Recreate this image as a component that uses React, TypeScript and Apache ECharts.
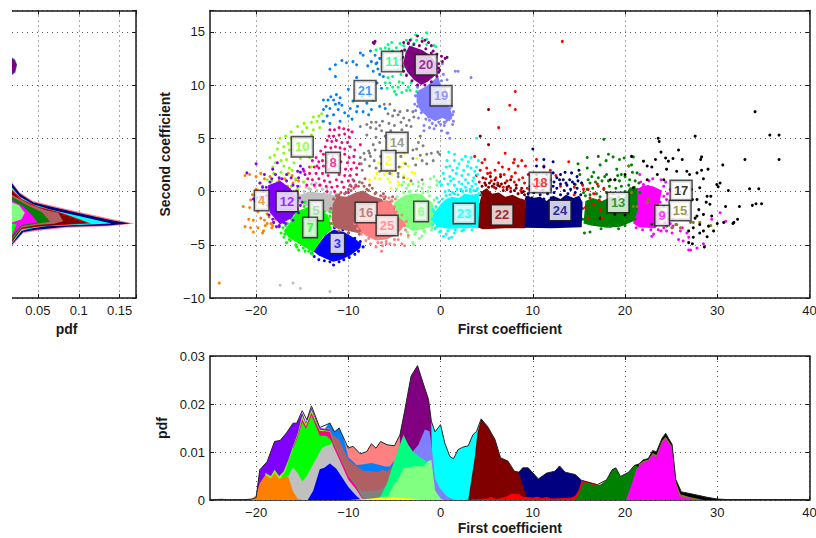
import React, { useEffect, useRef } from "react";
import * as echarts from "echarts";

type P = number[][];
const colors: Record<number, string> = { 2: "#ffff00", 3: "#0000ff", 4: "#ff8000", 5: "#c0c0c0", 6: "#80ff80", 7: "#00ff00", 8: "#ff0080", 9: "#ff00ff", 10: "#80ff00", 11: "#00ff80", 12: "#8000ff", 13: "#008000", 14: "#808080", 15: "#808020", 16: "#b06060", 17: "#000000", 18: "#ff0000", 19: "#8080ff", 20: "#800080", 21: "#0080ff", 22: "#800000", 23: "#00ffff", 24: "#000080", 25: "#ff8080" };

const xTicks = [-20, -10, 0, 10, 20, 30, 40];
const labelIds = [20, 11, 21, 19, 10, 14, 8, 2, 4, 12, 5, 7, 3, 16, 25, 6, 23, 22, 18, 24, 13, 17, 15, 9];
const labelX = [-1.57, -5.26, -8.19, 0.05, -15, -4.72, -11.66, -5.64, -19.4, -16.65, -13.5, -14.15, -11.2, -8.08, -5.8, -2.11, 2.55, 6.67, 10.8, 12.96, 19.25, 26.08, 25.97, 24.02];
const labelY = [11.9, 12.2, 9.47, 9, 4.2, 4.6, 2.72, 2.9, -0.85, -0.94, -1.78, -3.37, -4.87, -1.97, -3.19, -1.87, -2.06, -2.2, 0.84, -1.78, -1.03, 0.09, -1.78, -2.25];

// Dense cores of the scatter clouds (outline of the solid colour mass)
const core3: P = [[-13.8,-5.6],[-13.2,-6],[-12.5,-6.3],[-11.6,-6.6],[-10.8,-6.4],[-9.8,-6],[-8.7,-5.3],[-8.6,-4.9],[-9.5,-4.3],[-10.5,-3.8],[-11.6,-3.6],[-12.5,-4.1],[-13.2,-4.9]];
const core5: P = [[-15.3,-1.05],[-15.2,-0.3],[-14.2,0],[-13.4,-0.1],[-12.3,-0.2],[-11.1,-0.45],[-11.2,-1.7],[-11.8,-2],[-14,-1.6]];
const core6: P = [[-5.3,-1.8],[-4.9,-2.6],[-4.1,-3.2],[-3,-3.7],[-1.7,-3.5],[-0.7,-3.2],[-0.6,-2],[-0.9,-1],[-1.5,-0.7],[-2.1,-0.2],[-3,-0.2],[-3.7,-0.3],[-4.4,-0.6],[-5,-1]];
const core7: P = [[-17,-3.7],[-16.2,-2.8],[-15.6,-1.85],[-14.2,-1.4],[-13,-1.8],[-12.2,-2.2],[-11.8,-3.6],[-12.7,-4.2],[-13.8,-5.7],[-15.2,-5],[-16.5,-4.3]];
const core9: P = [[20.9,-3],[21.5,-3.35],[23.3,-3.45],[23.8,-2.7],[23.6,-1.7],[23.8,-0.7],[24,0.1],[23,0.5],[22,0.6],[21.3,0.2],[21.2,-1.2],[20.9,-2.2]];
const core12: P = [[-18.7,0.6],[-17.4,1],[-16.3,0.3],[-15.6,-0.45],[-15.4,-1.7],[-16.2,-2.5],[-17.4,-3.1],[-18.5,-2],[-18.7,-0.8]];
const core13: P = [[15.5,-3],[16.3,-3.2],[18,-3.4],[19.5,-3.3],[20.9,-2.8],[21.4,-1.8],[21.3,0.3],[20.5,0.4],[19.7,-0.9],[18.5,-0.5],[17.5,-0.9],[16.5,-0.6],[15.7,-0.9]];
const core16: P = [[-11.8,-2.6],[-11.7,-1.2],[-11.2,-0.4],[-10.2,-0.5],[-9.2,-0.1],[-8.4,0.1],[-7.5,-0.4],[-6.7,-0.6],[-5.9,-1],[-6.2,-2.5],[-6.6,-3.6],[-9,-3.9],[-11.6,-3.4]];
const core19: P = [[-2.6,9.4],[-1.5,9.9],[-0.6,10.6],[-0.3,10.9],[0.2,9.6],[0.6,8.8],[0.9,8],[1.3,7.2],[1,6.6],[0.2,6.9],[-0.6,6.6],[-1.4,7],[-2.2,7.6],[-2.6,8.4]];
const core20: P = [[-4.05,12],[-3.8,13],[-3.4,13.7],[-2.7,13.5],[-2,13.3],[-1.3,12.9],[-0.5,12.2],[-0.3,11.6],[-0.6,10.9],[-1.4,10.3],[-2.1,10],[-2.9,10.5],[-3.6,11.2]];
const core22: P = [[3.9,-2.4],[3.8,-3.3],[4.6,-3.55],[7,-3.45],[9.2,-3.45],[9.2,-0.8],[8.5,-0.6],[7.8,-0.3],[7,-0.5],[6.3,-0.1],[5.6,-0.2],[5,0.3],[4.6,0.1],[4.3,-0.8]];
const core23: P = [[-0.85,-2.3],[-0.8,-2.9],[-0.3,-3.3],[0.8,-3.5],[2.5,-3.45],[4.1,-3.4],[4.2,-1],[4.1,-0.2],[3.3,-0.3],[2.6,-0.2],[2,-0.6],[1.2,-0.5],[0.6,-0.7],[0,-1.2],[-0.5,-1.8]];
const core24: P = [[9.1,-3.4],[12,-3.45],[15.3,-3.35],[15.4,-1],[15,-0.4],[14.4,-0.6],[13.6,-0.3],[13,-0.7],[12.2,-0.4],[11.5,-0.9],[10.8,-0.5],[10,-0.6],[9.2,-0.4]];
const core25: P = [[-9.2,-2.6],[-8.9,-3.3],[-8.2,-4.1],[-7,-4.6],[-5.9,-4.5],[-4.8,-4.1],[-4.1,-3.4],[-3.8,-2.9],[-4.6,-2.4],[-5.3,-1.1],[-5.8,-0.8],[-6.6,-1],[-7.8,-1.5],[-8.6,-2]];

// Individually visible points
const pts2: P = [[-4.4,3.3],[-3.9,3.6],[-4,2.7],[-4.3,2.3],[-5.3,3.8],[-6.3,2.1],[-6.7,2.7],[-6.9,1.7],[-7.1,1.3],[-7.7,1.1],[-6.6,1.2],[-5.9,1.9],[-5.7,1.2],[-5.3,1.6],[-4.9,2],[-4,1.5],[-4.6,0.9],[-5.5,0.9],[-3.6,1.2],[-3.4,0.7],[-5.4,0.3],[-3.1,1.8],[-3.5,2.4],[-9.5,8.4],[-5.5,4.7],[-5.8,4.4],[-5,4.1],[-2.6,3.1],[-4.4,4.8],[-4.5,0.6],[-2.8,1.7],[-6.1,1.6]];
const pts3: P = [[-14,-5.8],[-13.7,-6.1],[-13.2,-6.4],[-12.6,-6.5],[-12,-6.6],[-11.6,-6.9],[-11,-6.6],[-10.5,-6.4],[-9.9,-6.2],[-9.3,-5.9],[-8.9,-5.6],[-8.4,-5.2],[-8.7,-4.7],[-9.3,-4.4],[-10,-3.9],[-10.6,-3.6],[-11.5,-3.4],[-12.5,-3.9],[-13.2,-4.6]];
const pts4: P = [[-21.2,1.5],[-20.7,1.6],[-20,1.4],[-19.5,1.7],[-19.1,1.2],[-18.5,1.4],[-17.5,1.1],[-16.9,1.2],[-16.5,1.7],[-16.1,1.5],[-15.7,1.1],[-15.4,1],[-16,0.8],[-16.6,0.5],[-15.9,0],[-15.5,-0.2],[-19.3,0.5],[-20,0.2],[-20.6,-0.8],[-21.4,-1.4],[-20.7,-1.5],[-20.4,-0.3],[-20.8,-2.6],[-20.3,-2.7],[-19.8,-1.9],[-19.5,-2.5],[-19.1,-2.7],[-18.8,-2.1],[-18.6,-2.4],[-18.4,-3],[-18.8,-3],[-19.2,-3.7],[-19.8,-3.4],[-20.6,-3.4],[-21.2,-3.3],[-20.3,-3.8],[-19.3,-3.9],[-18.3,-3.4],[-17.9,-2.6],[-18.1,-2.9],[-19,-3.2],[-18.2,-3.2],[-24,-8.6]];
const pts5: P = [[-15.3,0.5],[-14.9,0.9],[-14,0.7],[-13.5,0.8],[-13,0.6],[-12.8,0.2],[-14.3,0.3],[-15.7,0.1],[-12,-0.3],[-11.4,-0.2],[-11.2,-1],[-11.2,-1.7],[-12,-2.5],[-16,-0.8],[-17.4,-8.8],[-16,-8.6],[-15.2,-9.1],[-12,-9.4],[-15.4,-0.3],[-15.4,-0.9],[-14.8,0],[-14.1,0.2],[-13.4,0.1],[-12.6,-0.2],[-11.9,-0.1],[-11.2,-0.3],[-11,-0.9],[-11.1,-1.5],[-12.3,0.3],[-13.6,0.4],[-14.6,0.4]];
const pts6: P = [[-3,-4.8],[-2.3,-4.4],[-2.8,-4],[-2,-4.2],[-1.7,-3.8],[-1,-3.6],[-0.6,-3.4],[-3.5,-4.3],[-2.9,-5],[-3.5,0.6],[-4,0.9],[-3,0.7],[-2.4,0.9],[-1.9,0.7],[-1.1,1.2],[-0.7,1.4],[-0.4,1],[-1.2,0.4],[-2,0.3],[-0.4,0.6],[-5.3,-0.8],[-4.8,0.2],[-3.3,0],[-4.2,0.6],[-5.4,-1.5],[-5.2,-0.9],[-4.7,-0.5],[-4,-0.1],[-3.4,0],[-2.6,0.1],[-1.9,-0.1],[-1.2,-0.4],[-0.7,-0.8],[-0.5,-1.5],[-0.5,-2.4],[-0.5,-3],[-0.9,-3.4],[-1.8,-3.7],[-2.7,-3.9],[-3.6,-3.8],[-4.4,-3.2],[-5.1,-2.5],[-2.4,0.5],[-3.7,0.3],[-1.4,0]];
const pts7: P = [[-17.3,-3.9],[-17,-4.3],[-16.7,-4.8],[-16.4,-4.5],[-15.7,-5],[-15.4,-5.5],[-14.9,-5.3],[-14.3,-5.6],[-13.9,-5.9],[-16.8,-3.2],[-16.2,-2.6],[-15.6,-1.4],[-14.7,-1],[-12,-1.9],[-11.5,-2.6],[-11.2,-0.4],[-11.7,-2],[-11.4,-3.2],[-17.1,-3.4],[-16.6,-3],[-16.1,-2.4],[-15.5,-1.9],[-14.8,-1.4],[-14,-1.2],[-13.2,-1.5],[-12.6,-1.9],[-12,-2.3],[-11.7,-3],[-16.9,-4],[-16.3,-4.6],[-15.6,-5.2],[-14.7,-5.6],[-14,-5.8]];
const pts8: P = [[-12,5.8],[-11.5,5.8],[-11,6],[-10.5,5.9],[-10,5.8],[-9.6,5.6],[-12.1,5.2],[-11.6,5.2],[-11,5.3],[-10.4,5.4],[-9.9,5.1],[-12.3,4.8],[-11.8,4.7],[-11.3,4.8],[-10.7,4.6],[-10.1,4.6],[-12.5,4.2],[-11.9,4.1],[-11.4,4.2],[-10.9,4.1],[-10.4,4],[-9.8,4.2],[-9.3,3.9],[-12.7,3.5],[-12.2,3.5],[-11.7,3.3],[-11,3.4],[-10.4,3.5],[-9.9,3.2],[-9.4,3.3],[-13.5,3.2],[-13.9,2.9],[-13.2,2.8],[-12.8,2.9],[-12.3,2.8],[-11.6,2.6],[-10.8,2.8],[-10.1,2.7],[-9.4,2.7],[-8.8,2.6],[-14.2,2.3],[-13.7,2.3],[-13.2,2.2],[-12.7,2.4],[-12.1,2.1],[-11,2.2],[-10.3,2.1],[-9.7,2.1],[-9.1,2.2],[-14.8,1.9],[-14.2,1.7],[-13.5,1.7],[-12.8,1.7],[-12.2,1.5],[-11,1.6],[-10.4,1.5],[-9.8,1.5],[-9.1,1.6],[-14.4,1.2],[-13.9,1.1],[-13.2,1.2],[-12.6,1],[-12,0.9],[-11.3,1.1],[-10.7,0.9],[-10,1],[-9.4,1],[-13.7,0.6],[-13.1,0.6],[-12.4,0.5],[-11.8,0.4],[-11.2,0.5],[-10.5,0.4],[-9.7,0.5],[-9.2,0.5],[-12.3,0],[-11.5,0],[-14.5,0.6],[-10,-0.1],[-13,3.8],[-13.4,2.4],[-8.7,4.4]];
const pts9: P = [[21.6,1.6],[22,0.65],[22.5,0.5],[24.2,0.5],[23.3,0.2],[24.2,-0.45],[24.5,-0.75],[23.8,-1],[24.7,-2],[24.2,-3.4],[24.5,-3.7],[25.1,-3.9],[25.6,-3.1],[26.2,-3.4],[26.3,-4.65],[25.8,-4.5],[26.9,-5.5],[27.1,-5.5],[27.8,-5.3],[28.5,-4.9],[29.4,-2.6],[30.3,-2],[30.9,-2.8],[26.9,-4.3],[22.9,-4.2],[23.1,-4],[25.1,-3.4],[26.7,-3.9],[23.6,-3.6],[24.7,-2.6],[25.4,-2.15],[26,-3.7],[25.2,-3.25],[26.7,-2.2],[24.4,0.9],[23.9,1.1],[23,1.2],[22.6,1],[21.7,0.9],[24.9,0.2],[24.6,-0.2],[24.2,-1.4],[24.1,-2.3],[24.3,-2.9],[23.9,-3.7],[22.8,-3.6],[21.9,-3.6],[21.2,-3.4],[20.8,-2.6],[21.4,-1.7],[21.5,-0.9],[21.4,0.2],[24.9,-3],[25.2,-2.6]];
const pts10: P = [[-12.9,7.3],[-13.2,7.1],[-13.8,7],[-14,6.5],[-13.4,6.6],[-12.8,6.6],[-14.8,6.4],[-15.5,6.1],[-14.5,6],[-15,5.6],[-13.8,5.8],[-13.1,6],[-14,5.3],[-16.2,5.6],[-16.8,5.2],[-17.4,5],[-17.6,4.6],[-16.2,5],[-15.7,4.8],[-16.5,4.5],[-17,4.2],[-17.7,4],[-18,3.4],[-17,3.6],[-16.4,3.9],[-16,3.4],[-16.7,3],[-17.3,2.9],[-17.9,2.7],[-18.5,3.2],[-18.2,2.3],[-17,2.4],[-16.4,2.2],[-15.9,2.7],[-15.2,3.1],[-14.5,3.6],[-14.2,3.2],[-18.1,1.7],[-17.3,1.8],[-16.6,1.6],[-16.1,2],[-18.8,1.1],[-18.3,1],[-17.7,0.9],[-15.7,1.2],[-19.5,0.8],[-16.2,0.5],[-14.8,0.9],[-15.5,0.2],[-14,2.3],[-15.5,3.8],[-15,4.3]];
const pts11: P = [[-7,13.3],[-6.5,13.4],[-6,13.5],[-5.6,13.4],[-5.2,13.2],[-5.7,13.8],[-5.3,14],[-4.4,13.9],[-4,13.7],[-3.7,14.2],[-3.2,14.3],[-2.6,14.2],[-2,14.4],[-1.5,14.3],[-1.5,13.8],[-1.5,14.9],[-2.7,14.7],[-0.7,13.7],[-0.5,13.6],[-4.6,12.7],[-4.6,11.5],[-4.3,11],[-5.7,10.7],[-5.5,10.2],[-5.2,9.8],[-5,9.4],[-4.8,9.1],[-4.2,9.3],[-4.5,10.3],[-5.2,10.8],[-5.8,9.7],[-6,10.2],[-4.1,10.2],[-3.7,9.5],[-3.3,9.5],[-3.2,10.2],[-3.7,11],[-4,11.7],[-4.3,12.5],[-4.2,13],[-4.8,13.5],[-3.8,13.2],[-3.5,9.8],[-2.6,9.4],[-3.5,14],[-2.9,13.9],[-3.1,13.6],[-5.4,13],[-4.6,9.8]];
const pts12: P = [[-20,2.6],[-21,1.75],[-19.1,1.6],[-18.2,2.1],[-17.7,2.7],[-15.2,2.4],[-14.9,2.1],[-15.5,1.9],[-15.4,1.3],[-14.7,1.6],[-15.2,1.8],[-18.5,0.9],[-17.9,1.6],[-17.2,1.2],[-16.7,1.6],[-16.2,1.3],[-19.6,0.8],[-19.3,0.4],[-19.9,-0.6],[-20.1,-0.9],[-20.3,-0.7],[-16.2,-0.1],[-15.5,0.5],[-15,-1],[-17.8,-3.3],[-17.5,-3.2],[-19.2,0],[-19.5,-0.5],[-17,-2.9],[-18.2,-2.6],[-18.9,0.4],[-18.9,-0.4],[-18.8,-1.3],[-18.6,-2.2],[-18.1,-2.9],[-17.5,-3.3],[-16.8,-3],[-16,-2.7],[-15.4,-2],[-15.2,-1.3],[-15.3,-0.6],[-15.6,0],[-16,0.6],[-16.7,1],[-17.5,1.3],[-18.3,1.2]];
const pts13: P = [[17.7,4.9],[15.9,3.2],[14.9,2.6],[17.1,3.3],[18.2,3.5],[17.95,2.9],[18.7,3.25],[19.4,3],[19.9,3.15],[20.9,3.25],[20.7,2.5],[15.9,2.2],[17.3,2.5],[19.1,2.1],[20.4,2.4],[15.1,1.6],[16.6,1.8],[18,1.6],[21.3,1.75],[15.3,0.8],[15.6,-3.9],[16.2,-3.8],[18.4,-3.25],[14.6,0.65],[21.1,1],[15.5,-0.1],[16.2,0.8],[17.1,1.3],[18.9,1.1],[20,1.4],[21.5,0.8],[21.6,-0.1],
  [15.7,-0.4],[16.2,-0.3],[16.9,-0.2],[17.3,-0.5],[18,-0.1],[18.7,-0.2],[19.3,-0.5],[20,0],[20.7,0.1],[15.9,0.2],[16.5,0.3],[17.1,0.5],[17.7,0.2],[18.3,0.5],[19,0.3],[19.6,0.5],[20.4,0.6],[21,0.4],[16,1.1],[16.8,0.9],[17.5,1],[18.2,1],[19.4,1],[20.5,1.1],[16.4,1.4],[17.8,1.4],[19.6,1.6],[20.8,1.8],[19.2,1.5],[21.2,-0.3],[15.4,-2.6],[15.4,-1.6],[21.1,-2.6],[19.3,-3.5],[17.4,-3.5],[20,-3.2]];
const pts14: P = [[-6.1,8.2],[-5.5,8.2],[-5,7.6],[-4.4,7.5],[-3.6,7.6],[-3,7.5],[-2.9,7],[-3.4,6.7],[-4,6.9],[-4.6,7.2],[-5.2,7.1],[-5.7,7.3],[-6.3,6.6],[-7,6.5],[-7.5,6.5],[-8,6.3],[-8.7,6.1],[-7.6,6],[-7,5.9],[-6.4,5.7],[-6.6,6.2],[-5.6,6.4],[-5,6.2],[-4.3,6.5],[-3.7,6.2],[-3.2,6.1],[-4.2,5.8],[-5.4,5.7],[-6,5.2],[-7,5.1],[-8,5.3],[-6.6,4.6],[-7.3,4.4],[-2.2,5.2],[-2.4,4.6],[-1.9,4.3],[-2.6,4],[-3,3.9],[-2.2,3.4],[-1.5,3.5],[-1,3.6],[-0.3,3.7],[-0.1,3.5],[-1.5,2.6],[-0.8,2.9],[-2,2.9],[-2.7,2.5],[-3,3.1],[-7.1,3.9],[-7.8,3.8],[-8.3,3.6],[-8.7,3.2],[-8.2,3],[-7.6,3.3],[-7.2,2.9],[-8.6,2.6],[-7.7,2.4],[-7,2.2],[-6.5,3.3],[-6.4,2.6],[-5,3.9],[-4.3,3.3],[-3.8,2.6],[-4.6,1.7],[-4,1.3],[-4.6,1.4],[-5.5,1.7],[-3.2,1],[-2,1.1],[-8.5,2],[-6.6,1.9],[-7.7,3.6],[-4.5,2.3]];
const pts15: P = [[20.9,-1.4],[22.4,-1.05],[23.5,-1.2],[27.1,-2.9],[27.4,-2.9],[29.3,-3.2],[26,-3.4],[25.5,-3.1],[25.1,-3.4],[22.5,-0.75],[21.3,-1.4],[24.5,-3.25],[20.4,2.4],[20.7,-0.1],[28.1,-2.9],[23.8,-1.7]];
const pts16: P = [[-9.5,1.1],[-8.2,1.2],[-7.7,0.6],[-7.4,0.3],[-7,-0.1],[-8,0.2],[-9.2,0.6],[-9.7,0.1],[-10.2,-0.1],[-11,-0.3],[-11.3,-0.4],[-8.5,0.8],[-6.5,-0.8],[-6,-0.5],[-5.5,-1],[-6.2,-0.2],[-5.1,-1.6],[-5.2,-0.5],[-10.8,-0.1],[-10,0.2],[-9.4,0.3],[-8.9,0.5],[-8.3,0.5],[-7.8,0.1],[-7.1,-0.2],[-6.5,-0.4],[-6.1,-0.7],[-10.4,-0.2],[-11.6,-0.7],[-11.9,-1.6],[-11.9,-3],[-11,-3.7],[-10,-3.9],[-8.8,-4],[-9.8,0.6],[-8.8,0.9]];
const pts17: P = [[23.6,5],[23.7,4.7],[27.6,5.2],[25.8,3.9],[23.9,3.7],[28.3,3.25],[28.2,3],[30.6,2.5],[33,3],[36.7,3],[34.1,7.5],[35.7,5.3],[36.7,5.3],[23.3,3],[24.4,3.15],[24.7,2.85],[25.2,3.1],[26.2,3],[22,2.85],[22.4,2.4],[20.7,3.3],[22.9,2.3],[24.5,2.1],[25.6,1.9],[26.7,1.9],[29,2.1],[28.3,2],[27.8,1.75],[28.5,1.2],[27,1.6],[23.5,1.6],[22.4,1.1],[24.2,1.1],[29.95,0.65],[30.3,0.8],[30.1,0.45],[31.2,0.1],[33.5,0.25],[34.5,0.25],[29.3,-0.45],[28.9,-0.45],[27.2,0.2],[28.1,0.35],[27.8,-0.75],[27.3,-0.75],[28.8,-1],[29.2,-1.2],[28,-1.7],[30.9,-1.4],[32.4,-1.4],[33.8,-1.3],[34.2,-1.15],[34.8,-1.15],[29.4,-2.3],[30,-3],[30.7,-2.9],[31.8,-2.9],[32.2,-2.6],[31.7,-3],[28.5,-2.15],[27.6,-2.5],[28.1,-3.1],[27.4,-3.4],[26.9,-3.7],[28.5,-3.7],[29.6,-3.7],[28.1,-3.9],[28.9,-4.25],[26.9,-4.8],[27.3,-4.9],[28.6,-5.2],[27.4,-4.3],[18.9,-2.15],[17.3,-2.5],[20,-2.2],[18.9,1.1],[18.4,1.1],[20,1.6],[20.9,0.35],[22.9,-3.05],[27.8,-2.3],[29.05,-3.25]];
const pts18: P = [[4.5,2.7],[4.3,2],[3.7,3.3],[6.3,2.7],[7,3.6],[7.9,2.7],[8.4,2.4],[5.4,1.75],[5.9,2],[6.5,1.6],[7.4,2.1],[8.1,1.75],[8.8,2.9],[9.2,2.4],[10.4,3],[11.2,2.4],[11.9,2],[13.9,2.8],[7.5,8.1],[8.1,7.7],[8.1,9.4],[6.3,6],[13.2,14.1],[5.5,1],[6.2,0.8],[7.2,1],[8,0.9],[8.9,1.3],[9.5,1.6],[10,0.7],[9.4,0.3],[8.7,0.1],[7.6,0.3],[6.8,0.4],[5.8,0.4],[4.9,1.2],[4.2,0.9],[3.9,1.5],[10.5,1.2],[12.5,1.5],[13,0.5],[14.5,-0.3],[15.4,0.6],[16,0.2],[16.6,-0.2],[17,0.7],[17.7,0.3],[16.2,-0.6],[17.2,-0.8],[16.6,-1.2],[15.7,-1.5],[14.6,-1.8],[15,-0.9],[16,-2.5],[17.3,-1.7],[18.2,-0.2],[14.5,0.4],[11.1,-1.2],[11.8,-0.9],[9.4,-0.8],[10.6,-2.5],[17.5,-2.5],[15.5,0.2],[14,-2.4],[5.1,1.7],[6,1.3],[6.9,1.6],[7.7,1.4],[8.5,1.1],[9.1,0.8],[5,2.2],[6.7,2.3],[8,3],[4.8,3]];
const pts19: P = [[0.2,12],[1.6,11.3],[1.9,11.3],[3.3,10.7],[0.7,10.5],[0.3,11],[0.5,9.5],[0.9,8.5],[1.2,8],[1.3,7.2],[1.4,6.6],[0.7,6.7],[0,6.3],[-0.5,6.2],[-1.2,6],[-1.8,6.2],[-1.3,7],[-0.7,5.9],[0.1,5.7],[0.7,5.5],[1,5],[0.8,5.5],[-1.8,5.7],[-2.4,6.9],[-2.7,7.6],[-2.8,8.2],[-2.7,9],[-2.5,9.8],[1,7.8],[0.4,6.5],[0,8],[0.5,7.5],[-2.7,9],[-2.5,8],[-2.1,7.4],[-1.6,6.8],[-0.9,6.4],[-0.2,6.5],[0.5,6.5],[1.1,6.9],[1.4,7.5],[1.1,8.2],[0.7,9],[0.4,9.7],[0.1,10.4],[-1.2,6.7],[-0.1,7],[1.3,6.3],[0.4,6.2],[-0.7,6.9]];
const pts20: P = [[-7.3,14],[-7.1,14.1],[-7.2,13.9],[-4,14],[-3.3,14.2],[-2.5,14.6],[-2,14.1],[-1.7,14.2],[-1.3,14],[-0.8,13.2],[-0.4,12.9],[0.1,12.7],[0.5,12.5],[0.7,12.6],[0.2,12.2],[-1,13.7],[-3.5,13.9],[-4.2,13.2],[-4.3,12.4],[-0.2,11.6],[-0.2,11.2],[-4.2,11.8],[-4.1,12.6],[-3.9,13.3],[-3.5,13.9],[-2.9,13.8],[-2.3,13.7],[-1.6,13.4],[-1,13],[-0.5,12.6],[-0.2,12],[-0.1,11.4],[-0.4,10.8],[-1,10.3],[-1.7,10],[-2.5,10],[-3.1,10.4],[-3.7,10.9],[-4,11.3]];
const pts21: P = [[-11.4,11.9],[-12,11.5],[-11.4,10.8],[-10.7,12.3],[-10.2,12.1],[-9.5,12.2],[-9.1,11.9],[-8.7,13],[-8.4,12.8],[-7.6,13.2],[-7.1,12.8],[-6.6,12.5],[-7.5,12.2],[-6.9,12.1],[-7.3,11.3],[-6.6,11],[-6.2,10.8],[-10,9.6],[-9.1,10.7],[-6.9,10.2],[-6.4,9.7],[-9.5,8.5],[-8,8.3],[-7.5,7.7],[-6.6,8],[-6,7.8],[-12.7,8.6],[-12.2,8.6],[-11.6,8.6],[-11.3,9.1],[-10.9,8.8],[-11.4,8.2],[-12,7.8],[-12.7,7.7],[-11.1,7.7],[-10.4,7.4],[-12.3,7.1],[-11.6,7.2],[-10,7.1],[-9.1,7.5],[-8.4,7.5],[-12.7,6.6],[-12,6.4],[-10.9,6.6],[-9.6,6.8],[-7.8,7.2],[-7.3,8.6],[-11,8.3],[-12.4,8],[-11.9,8.9],[-8.5,8.9],[-7.7,9],[-9,8],[-6.8,11.5],[-7,12],[-6.3,12.9],[-7.9,11.8],[-9.8,7.8],[-10.7,8.1]];
const pts22: P = [[5.2,7.7],[4.3,5.2],[5.2,4.4],[5.4,1.4],[5.9,1.1],[6.5,1.4],[7,0.8],[7.6,1.1],[8.2,0.6],[8.8,0.3],[4.6,1.3],[4.8,0.8],[6.2,0.6],[7.2,0.4],[4.5,-0.1],[9.5,-0.5],[3.7,-2.9],[3.8,-3.1],[4.3,-0.3],[4.5,0.5],[4.9,0.6],[5.2,0.4],[5.6,0.5],[6,0.3],[6.4,0.5],[6.8,0.1],[7.2,0.2],[7.6,0],[8,0.1],[8.4,-0.2],[8.8,-0.1],[9.1,-0.3],[4.1,-1.2],[4,-0.7],[5.3,0.8],[5.8,0.7],[6.6,0.7],[7.4,0.5],[8.2,0.3],[9,0]];
const pts23: P = [[0.9,3.7],[1.5,3.5],[2.3,3],[2.7,3.3],[3.3,3.2],[0.7,2.9],[1.5,2.9],[2,2.6],[0.6,2.3],[1.3,2],[2.9,2.4],[3.3,2.2],[4.1,2.9],[3.9,2.3],[0.3,1.7],[1,1.4],[1.7,1.7],[2.3,1.5],[3,1.6],[3.6,1.3],[4,1.6],[0.8,0.7],[1.5,0.6],[2.3,0.7],[3,0.8],[3.8,0.7],[0.1,0.6],[1.1,1],[-0.1,0.9],[0.5,0],[1.3,-0.1],[2.2,0.2],[3.2,0.2],[3.9,0.1],[-0.4,-0.6],[-0.8,-1.7],[-0.1,-3.8],[0.6,-4],[0.9,-4.4],[1.2,-4.3],[0.3,-4.2],[1.5,-3.9],[-0.4,-3.3],[2.3,-3.7],[3.9,5],[-0.7,-1.9],[-0.5,-1.4],[-0.2,-1],[0.2,-0.7],[0.6,-0.4],[1,-0.3],[1.5,-0.2],[1.9,-0.3],[2.4,0],[2.8,0.1],[3.2,0],[3.6,0.1],[4,0.3],[4.2,-0.2],[-0.9,-2.6],[-0.9,-3.1],[-0.6,-3.5],[0,-3.7],[0.8,-3.7],[1.6,-3.6],[2.5,-3.6],[3.4,-3.6],[1.8,0.2],[2.7,0.4],[3.4,0.5],[0.9,0.1],[2,0.9],[3.5,1],[2.7,1.1],[1.4,1.2],[2.5,2],[3.7,1.9],[1,2.4],[1.8,2.2],[3,2.8],[0.4,1.2]];
const pts24: P = [[10,4],[10.4,2.4],[11.2,3],[12.2,2.8],[11.2,2.3],[13,1.6],[13.5,1.8],[14.2,1.75],[14.8,1.4],[15,2],[12.2,1.75],[12.6,1.3],[11.9,1.1],[10.7,0.8],[11.5,1.6],[13.3,1.1],[14,1.1],[14.9,1],[10.4,1.6],[9.7,0.5],[15.3,0.8],
  [9.3,-0.7],[9.9,-0.6],[10.6,-0.8],[11.2,-0.7],[12,-0.6],[12.7,-0.8],[13.5,-0.6],[14.2,-0.7],[15,-0.6],[9.5,-0.2],[10.1,-0.1],[10.8,-0.3],[11.6,-0.2],[12.3,-0.1],[13,-0.3],[13.8,-0.2],[14.6,-0.1],[15.2,-0.3],[9.7,0.2],[10.4,0.3],[11.1,0.1],[11.9,0.2],[12.6,0.3],[13.4,0.1],[14.1,0.2],[14.8,0.3],[10.1,0.6],[10.9,0.5],[11.5,0.7],[12.2,0.5],[13,0.7],[13.7,0.6],[14.5,0.7],[10.6,1],[11.3,1.1],[12.3,0.9],[12.9,1.1],[13.6,0.8],[14.3,0.9]];
const pts25: P = [[-8.6,-4],[-8.1,-4.6],[-7.6,-4.9],[-7,-5.2],[-6.4,-5.6],[-6.3,-5.1],[-5.5,-4.9],[-5,-5],[-4.2,-4.9],[-3.9,-5.1],[-4.6,-4.5],[-3.8,-3.6],[-3.5,-4.1],[-7.6,-4.2],[-5.9,-4.7],[-4.9,-0.7],[-6.2,-0.5],[-4.7,-2.9],[-9.3,-3],[-9,-3.5],[-8.5,-3.8],[-7.8,-4.4],[-6.8,-4.8],[-5.9,-4.9],[-5,-4.5],[-4.3,-4],[-3.9,-3.2],[-3.7,-2.8],[-4.2,-2.2],[-4.8,-1.9],[-5,-1.4],[-5.3,-0.9],[-5.6,-0.6],[-6.4,-4.8]];

// Bottom panel: top edge of each stacked layer, in units of 0.001 pdf
const top2: P = [[-10,0],[-9,0.1],[-8,0.2],[-7,0.4],[-6,0.7],[-5,0.5],[-4,0.4],[-3,0.3],[-2,0]];
const top3: P = [[-14.4,0],[-13.8,2],[-13.1,6.4],[-12.6,6.7],[-12,7.6],[-11.3,6.5],[-10,2.7],[-9.1,0.8],[-8.6,0]];
const top4: P = [[-20.8,0],[-20.3,0.4],[-20,1],[-19.6,3.5],[-19,5.2],[-18.4,4.5],[-18,5.6],[-17.5,4.4],[-16.9,4.9],[-16.5,4.8],[-16,1.8],[-15.5,0.3],[-15,0]];
const top5: P = [[-17.3,0],[-17.2,4.5],[-16.5,5],[-16,6.8],[-15.5,5.6],[-15,3.9],[-14.5,5],[-13.5,8.6],[-12.8,11],[-12,11.5],[-11.8,11.8],[-11.3,9.8],[-10,4.2],[-9.1,2.1],[-8.6,0.5],[-8.3,0]];
const top6: P = [[-6,0],[-5.8,0.3],[-5.1,3.2],[-4.6,4.3],[-4,6.6],[-3.3,6.9],[-2.4,7.1],[-1.9,7],[-1.3,8.1],[-1,8.3],[-0.6,2],[0,0.3],[0.3,0]];
const top7: P = [[-17.2,0],[-17.2,5],[-16.8,6],[-16.5,8],[-16,10.7],[-15.5,13],[-15,16.2],[-14.6,14.8],[-14,17.6],[-13.1,13.4],[-12.4,13.4],[-12,12.7],[-11.7,11.8],[-11.6,0]];
const top8: P = [[-16,0],[-16,11],[-15.5,13.4],[-15,16.8],[-14.6,15.3],[-14,18.2],[-13.1,14.4],[-12.4,14.3],[-12,14.2],[-11.6,11.6],[-11.3,10.4],[-10,5],[-9.1,2.7],[-8.6,0.8],[-8.2,0]];
const top9: P = [[20.1,0],[20.7,3.2],[21.2,6.3],[21.6,7.2],[22,7.9],[22.5,8.1],[23,9.4],[23.4,8.9],[24,11.9],[24.4,12.7],[25.1,10.8],[25.5,3.5],[25.9,0.8],[27,0.3],[28,0]];
const top10: P = [[-19.2,0],[-19,5.6],[-18.4,5],[-18,6.3],[-17.5,5],[-17,6],[-16.5,8.4],[-16,11.2],[-15.5,13.8],[-15,17.6],[-14.6,15.9],[-14,18.8],[-13.1,14.7],[-12.4,14.5],[-12,14.4],[-11.7,11.8],[-11.6,0]];
const top11: P = [[-6.7,0],[-5.8,3.5],[-5.1,7.7],[-4.6,10.5],[-4,13.5],[-3.5,11.5],[-3,10.1],[-2.4,9.1],[-1.5,8],[-1,8.4],[-0.7,2],[-0.1,0]];
const top12: P = [[-21,0],[-20.6,0.1],[-20,0.5],[-19.6,6.3],[-18.8,8],[-18,12.2],[-17.4,12.4],[-16.7,14],[-16,16],[-15.6,16],[-15,18.2],[-14.6,16.2],[-14,19.2],[-13.1,15],[-12.4,14.8],[-12,14.6],[-11.6,0]];
const top13: P = [[14.6,0],[15.1,1.8],[15.5,3.7],[17,2.9],[17.3,3.2],[18,4.2],[18.6,6.3],[19,6.7],[19.5,4.9],[20.4,5.8],[21,7.2],[21.5,7],[21.7,0]];
const top14: P = [[-12.5,0],[-12.4,15],[-12,14.9],[-11.3,10.8],[-10,5.4],[-9.1,3.2],[-8.6,2],[-8,1.9],[-7,2],[-6.5,2.2],[-6,3],[-5.5,4.2],[-5,7.5],[-4.5,11],[-4,13.8],[-3.8,0]];
const top15: P = [[21,0],[21.5,7.4],[22,8.2],[22.5,8.4],[23,9.8],[23.4,9.4],[24,12.3],[24.4,13.2],[25.1,11.2],[25.5,3.9],[26,1.2],[27,0.6],[28,0.2],[28.5,0]];
const top16: P = [[-12.3,0],[-12.2,15.2],[-11.7,13.5],[-11,12.6],[-10,8.4],[-9.1,7],[-8.4,6.1],[-7.3,6],[-6.8,5.8],[-6.3,6.3],[-5.8,6],[-5.5,6.4],[-5,7.8],[-4.5,10.9],[-4.4,0]];
const top17: P = [[20.9,0],[21,7.2],[21.5,7.5],[22,8.4],[22.5,8.6],[23,10.3],[23.4,10],[24,12.8],[24.4,13.9],[25.1,11.6],[25.5,4.3],[26.1,1.7],[27.4,1.2],[28.8,0.6],[30,0.2],[31,0.1],[33,0.1],[35,0.1],[36,0.05],[38,0.1],[39,0.05],[40,0]];
const top18: P = [[2.8,0],[3,0.1],[5,0.3],[5.5,0.6],[6,0.2],[7,0.6],[7.7,1.3],[8.5,1.2],[9,0.6],[10,0.5],[10.5,0.7],[11,0.4],[11.5,0.6],[12,0.3],[13.5,0.4],[14.2,0.5],[14.6,0.9],[15,2.2],[15.3,4.1],[17,3.2],[17.4,3.2],[17.5,0]];
const top19: P = [[-3.2,0],[-3.1,9.9],[-2.4,11.5],[-1.7,14.7],[-1.2,14.3],[-0.9,10],[-0.6,4.5],[-0.1,2.5],[0.65,0.8],[1.4,0.1],[2,0]];
const top20: P = [[-4.5,0],[-4.4,13.6],[-3.9,18.5],[-3.2,25.8],[-2.5,28],[-1.9,24.4],[-1.3,20.9],[-1,16.4],[-0.9,0]];
const top21: P = [[-12.6,0],[-12.5,15],[-12,16.2],[-11.5,14.2],[-11,15],[-10.5,12.8],[-10,8.9],[-9.5,8],[-9.1,7.3],[-8.5,7.4],[-7.5,7.7],[-6.8,7.4],[-6,7],[-5.5,7],[-5,8.3],[-4.8,0]];
const top22: P = [[3,0],[3.7,8.8],[4,14],[4.4,16.9],[5.1,15.3],[5.9,12.6],[6.5,8.8],[7.3,8.1],[8,6],[8.5,5.8],[8.9,3],[9.3,0.8],[9.6,0]];
const top23: P = [[-1.2,0],[-1,16.4],[-0.6,14.2],[0,15.7],[0.45,11.9],[1,9.1],[1.4,8.6],[1.9,10.5],[2.4,11],[3,11.3],[3.5,13.6],[3.9,14.3],[4.4,16.9],[4.45,0]];
const top24: P = [[8,0],[8,6],[8.5,5.8],[8.9,6.7],[9.5,6.7],[10.6,4.4],[11.5,5.6],[12.4,6],[12.9,7.1],[13.5,5.8],[14.6,5.3],[15.3,4],[15.5,0]];
const top25: P = [[-10.6,0],[-10.5,12.5],[-10,10.8],[-9.5,11.2],[-8.7,9.6],[-8,10.1],[-7.5,11.7],[-7,10.8],[-6.5,12.2],[-5.8,11.5],[-5,11.3],[-4.4,13.6],[-4.2,0]];
const totalTop: P = [[-25,0],[-24.3,0.1],[-23.7,0.15],[-23,0],[-21,0.1],[-20.5,0.2],[-20,0.5],[-19.6,6.3],[-18.8,8],[-18,12.2],[-17.4,12.4],[-16.7,14],[-16,16],[-15.6,16],[-15,18.6],[-14.5,16.7],[-14,19.6],[-13.1,15.1],[-12,16],[-11.5,14.2],[-11,15],[-10,10.8],[-9.5,11.2],[-8.7,9.6],[-8,10.1],[-7.5,11.7],[-7,10.8],[-6.5,12.2],[-5.8,11.5],[-5,11.3],[-4.4,13.6],[-3.9,18.5],[-3.2,25.8],[-2.5,28],[-1.9,24.4],[-1.3,20.9],[-1,16.4],[-0.6,14.2],[0,15.7],[0.45,11.9],[1,9.1],[1.4,8.6],[1.9,10.5],[2.4,11],[3,11.3],[3.5,13.6],[3.9,14.3],[4.4,16.9],[5.1,15.3],[5.9,12.6],[6.5,8.8],[7.3,8.1],[8,6],[8.5,5.8],[8.9,6.7],[9.5,6.7],[10.6,4.4],[11.5,5.6],[12.4,6],[12.9,7.1],[13.5,5.8],[14.6,5.3],[15.3,4.1],[17,3.2],[18,4.2],[18.6,6.3],[19,6.7],[19.5,4.9],[20.4,5.8],[21,7.2],[21.5,7.5],[22,8.4],[22.5,8.6],[23,10.3],[23.4,10],[24,12.8],[24.4,13.9],[25.1,11.6],[25.5,4.3],[26.1,1.7],[27.4,1.2],[28.8,0.6],[30,0.2],[31,0.1],[35,0.1],[40,0.05]];

// Left panel: marginal pdf against the second coefficient (pdf, y)
const side25: P = [[0.018,0.9],[0.028,-0.1],[0.044,-0.9],[0.065,-1.3],[0.105,-2],[0.142,-2.6],[0.168,-3],[0.138,-3.25],[0.085,-3.4],[0.048,-3.7],[0.032,-3.9],[0.018,-5.15]];
const side24: P = [[0.018,0.8],[0.028,-0.2],[0.044,-1],[0.065,-1.4],[0.105,-2.1],[0.14,-2.7],[0.163,-3],[0.135,-3.18],[0.085,-3.32],[0.048,-3.6],[0.032,-3.8],[0.018,-5]];
const side23: P = [[0.018,0.4],[0.028,-0.5],[0.044,-1.2],[0.065,-1.7],[0.1,-2.3],[0.12,-2.65],[0.14,-3],[0.1,-3.15],[0.06,-3.27],[0.04,-3.5],[0.03,-3.7],[0.018,-4.9]];
const side18: P = [[0.018,0.2],[0.03,-0.7],[0.05,-1.4],[0.075,-1.9],[0.09,-2.3],[0.115,-3],[0.08,-3.15],[0.05,-3.3],[0.03,-3.55],[0.018,-4.8]];
const side22: P = [[0.018,0.05],[0.03,-0.85],[0.05,-1.5],[0.075,-2],[0.09,-2.4],[0.11,-2.95],[0.08,-3.1],[0.05,-3.25],[0.03,-3.5],[0.018,-4.7]];
const side16: P = [[0.018,-0.3],[0.04,-1.2],[0.06,-1.75],[0.075,-2],[0.081,-2.8],[0.07,-3.02],[0.05,-3.15],[0.03,-3.4],[0.018,-4.6]];
const side13: P = [[0.018,-0.5],[0.04,-1.4],[0.055,-1.95],[0.065,-2.85],[0.05,-3],[0.03,-3.25],[0.018,-4.5]];
const side9: P = [[0.018,-0.8],[0.032,-1.4],[0.04,-2],[0.05,-2.9],[0.03,-3.15],[0.018,-4.2]];
const side6: P = [[0.018,-1],[0.027,-1.3],[0.034,-2],[0.03,-2.6],[0.018,-2.9]];
const side7: P = [[0.018,-3],[0.024,-3.1],[0.018,-4.1]];
const side20a: P = [[0.018,12.6],[0.022,12.4],[0.0245,11.9],[0.0225,11.2],[0.018,10.9]];
const side20b: P = [[0.018,12.5],[0.0215,12.3],[0.0238,11.9],[0.0218,11.3],[0.018,11]];

const pointSets: [number, P][] = [[2,pts2],[3,pts3],[4,pts4],[5,pts5],[6,pts6],[7,pts7],[8,pts8],[9,pts9],[10,pts10],[11,pts11],[12,pts12],[13,pts13],[14,pts14],[15,pts15],[16,pts16],[17,pts17],[18,pts18],[19,pts19],[20,pts20],[21,pts21],[22,pts22],[23,pts23],[24,pts24],[25,pts25]];
const coreSets: [number, P][] = [[3,core3],[5,core5],[6,core6],[7,core7],[9,core9],[12,core12],[13,core13],[16,core16],[19,core19],[20,core20],[22,core22],[23,core23],[24,core24],[25,core25]];
const layerSets: [number, P][] = [[25,top25],[24,top24],[23,top23],[22,top22],[21,top21],[20,top20],[19,top19],[18,top18],[17,top17],[16,top16],[15,top15],[14,top14],[13,top13],[12,top12],[11,top11],[10,top10],[9,top9],[8,top8],[7,top7],[6,top6],[5,top5],[4,top4],[3,top3],[2,top2]];
const sideSets: [string, P][] = [["#ff8080",side25],["#000080",side24],["#00ffff",side23],["#ff0000",side18],["#800000",side22],["#b06060",side16],["#008000",side13],["#ff00ff",side9],["#00ff00",side7],["#80ff80",side6],["#3060c0",side20a],["#800080",side20b]];

const poly = (pts: P, fill: string, xi: number, yi: number, z: number) => ({
  type: "custom", coordinateSystem: "cartesian2d", xAxisIndex: xi, yAxisIndex: yi, z, silent: true, clip: true,
  data: [pts[0]],
  renderItem: (_p: any, api: any) => ({ type: "polygon", shape: { points: pts.map((c) => api.coord(c)) }, style: { fill } }),
});

const FONT = "Liberation Sans";
const INK = "#1a1a1a";
const tickFmt = (v: number) => String(v).replace("-", "\u2212");
const yFmt = (v: number) => (v % 5 !== 0 ? "" : String(v).replace("-", "\u2212"));
const sideFmt = (v: number) => ([0.05, 0.1, 0.15].includes(v) ? String(v) : "");
const nameStyle = { fontFamily: FONT, fontWeight: "bold", fontSize: 14, color: INK };
const line = { show: true, onZero: false, lineStyle: { color: INK, width: 1.5 } };
const tick = { show: true, inside: true, length: 4, lineStyle: { color: INK, width: 1 } };
const split = { show: true, lineStyle: { type: [1, 4] as any, color: "#555", width: 1 } };
const lab = { fontFamily: FONT, fontSize: 13, color: INK };

const mirror = (grid: number, min: number, max: number, interval: number, position: string) => ({
  type: "value", gridIndex: grid, min, max, interval, position, axisLine: line, axisTick: tick, axisLabel: { show: false }, splitLine: { show: false },
});
const firstAxis = (grid: number, nameGap: number) => ({
  type: "value", gridIndex: grid, min: -25, max: 40, position: "bottom", name: "First coefficient", nameLocation: "middle", nameGap, nameTextStyle: nameStyle,
  axisLine: line, axisTick: { ...tick, customValues: xTicks }, splitLine: split,
  axisLabel: { ...lab, margin: 6, customValues: xTicks, formatter: tickFmt },
});
const firstMirror = (grid: number) => ({
  type: "value", gridIndex: grid, min: -25, max: 40, position: "top", axisLine: line, axisTick: { ...tick, customValues: xTicks }, axisLabel: { show: false, customValues: xTicks }, splitLine: { show: false },
});

export default function App() {
  const ref = useRef<HTMLDivElement>(null);
  useEffect(() => {
    const chart = echarts.init(ref.current!, undefined, { renderer: "svg" });
    const series: any[] = [];
    coreSets.forEach(([k, pts]) => series.push(poly(pts, colors[k], 0, 0, k * 2)));
    pointSets.forEach(([k, pts]) => series.push({ type: "scatter", xAxisIndex: 0, yAxisIndex: 0, z: k * 2 + 1, symbolSize: 3, silent: true, itemStyle: { color: colors[k], opacity: 1 }, data: pts }));
    series.push({
      type: "scatter", xAxisIndex: 0, yAxisIndex: 0, z: 80, symbolSize: 0, silent: true,
      data: labelIds.map((id, i) => ({
        value: [labelX[i], labelY[i]],
        label: { show: true, position: "inside", formatter: String(id), fontFamily: FONT, fontWeight: "bold", fontSize: 13, lineHeight: 13, color: colors[id], textBorderWidth: 0, textBorderColor: "transparent", backgroundColor: "#fff", borderColor: "#222", borderWidth: 1.5, padding: [3, 3, 3, 3] },
      })),
    });
    layerSets.forEach(([k, pts]) => series.push({ type: "line", xAxisIndex: 2, yAxisIndex: 2, z: 3, showSymbol: false, symbol: "none", silent: true, lineStyle: { width: 0 }, areaStyle: { color: colors[k], opacity: 1 }, data: pts.map(([x, y]) => [x, y / 1000]) }));
    series.push({ type: "line", xAxisIndex: 2, yAxisIndex: 2, z: 4, symbol: "none", silent: true, lineStyle: { width: 1, color: "#222" }, data: totalTop.map(([x, y]) => [x, y / 1000]) });
    sideSets.forEach(([c, pts], i) => series.push(poly(pts, c, 4, 4, 3 + i)));

    chart.setOption({
      animation: false,
      backgroundColor: "#fff",
      grid: [
        { left: 210, top: 10.5, width: 599.5, height: 287.5, outerBoundsMode: "none" },
        { left: 210, top: 356, width: 599.5, height: 144, outerBoundsMode: "none" },
        { left: -3, top: 10.5, width: 139, height: 287.5, outerBoundsMode: "none" },
      ],
      xAxis: [
        firstAxis(0, 21),
        firstMirror(0),
        firstAxis(1, 21),
        firstMirror(1),
        { type: "value", gridIndex: 2, min: 0, max: 0.17, interval: 0.05, position: "bottom", name: "pdf", nameLocation: "middle", nameGap: 21, nameTextStyle: nameStyle, axisLine: line, axisTick: tick, splitLine: split, axisLabel: { ...lab, margin: 6, formatter: sideFmt } },
        mirror(2, 0, 0.17, 0.05, "top"),
      ],
      yAxis: [
        { type: "value", gridIndex: 0, min: -10, max: 17, interval: 5, position: "left", name: "Second coefficient", nameLocation: "middle", nameGap: 28, nameTextStyle: nameStyle, axisLine: line, axisTick: tick, splitLine: split, axisLabel: { ...lab, margin: 5, formatter: yFmt } },
        mirror(0, -10, 17, 5, "right"),
        { type: "value", gridIndex: 1, min: 0, max: 0.03, interval: 0.01, position: "left", name: "pdf", nameLocation: "middle", nameGap: 27, nameTextStyle: nameStyle, axisLine: line, axisTick: tick, splitLine: split, axisLabel: { ...lab, margin: 5 } },
        mirror(1, 0, 0.03, 0.01, "right"),
        { ...mirror(2, -10, 17, 5, "right"), splitLine: split },
      ],
      graphic: [{ type: "rect", z: 200, shape: { x: 0, y: 0, width: 12, height: 300 }, style: { fill: "#fff" } }],
      series,
    });
    return () => chart.dispose();
  }, []);
  return <div ref={ref} style={{ position: "fixed", left: 0, top: 0, width: 816, height: 538 }} />;
}
